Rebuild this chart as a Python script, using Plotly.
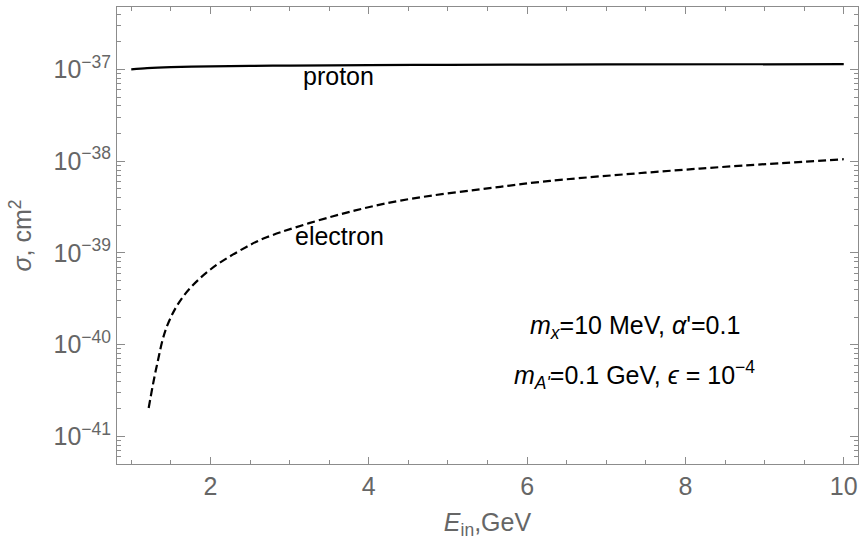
import plotly.graph_objects as go

# ---- data ----
proton_E = [1.0, 1.2, 1.5, 2.0, 2.5, 3.0, 4.0, 5.0, 7.0, 10.0]
proton_sigma = [1.0e-37, 1.03e-37, 1.057e-37, 1.08e-37, 1.093e-37, 1.102e-37, 1.113e-37,
                1.121e-37, 1.132e-37, 1.14e-37]

electron_E = [1.22, 1.32, 1.45, 1.66, 2.0, 2.46, 2.71, 3.55, 4.40, 5.66, 6.29, 8.18, 10.0]
electron_sigma = [2.04e-41, 5.75e-41, 1.58e-40, 3.39e-40, 6.6e-40, 1.17e-39, 1.48e-39,
                  2.51e-39, 3.72e-39, 5.25e-39, 6.1e-39, 8.3e-39, 1.05e-38]

x_tickvals = [2, 4, 6, 8, 10]
y_tickvals = [1e-41, 1e-40, 1e-39, 1e-38, 1e-37]
y_ticktext = ["10<sup>−41</sup>", "10<sup>−40</sup>", "10<sup>−39</sup>",
              "10<sup>−38</sup>", "10<sup>−37</sup>"]

FONT = "Liberation Sans, Arial, sans-serif"
FRAME = "#8c8c8c"
TICKC = "#666666"

fig = go.Figure()
fig.add_trace(go.Scatter(x=proton_E, y=proton_sigma, mode="lines",
                         line=dict(color="black", width=2.2, shape="spline", smoothing=0.8),
                         showlegend=False))
fig.add_trace(go.Scatter(x=electron_E, y=electron_sigma, mode="lines",
                         line=dict(color="black", width=2.2, dash="8px,4px", shape="spline"),
                         showlegend=False))

fig.update_layout(
    width=861, height=541,
    margin=dict(l=117, r=3, t=7, b=77),
    paper_bgcolor="white", plot_bgcolor="white",
    font=dict(family=FONT, size=25, color=TICKC),
)

fig.update_xaxes(
    range=[0.82, 10.18],
    tickvals=x_tickvals,
    ticks="inside", ticklen=7, tickwidth=1, tickcolor=FRAME,
    minor=dict(dtick=0.5, tick0=0, ticks="inside", ticklen=4, tickcolor=FRAME, showgrid=False),
    showline=True, linecolor=FRAME, linewidth=1, mirror="allticks",
    showgrid=False, zeroline=False,
    tickfont=dict(family=FONT, size=25, color=TICKC),
    title=dict(text="<i>E</i><sub>in</sub>,GeV", font=dict(family=FONT, size=25, color=TICKC),
               standoff=14),
)
fig.update_yaxes(
    type="log",
    range=[-41.3, -36.32],
    tickvals=y_tickvals, ticktext=y_ticktext,
    ticks="inside", ticklen=8, tickwidth=1, tickcolor=FRAME,
    minor=dict(dtick="D1", ticks="inside", ticklen=4, tickcolor=FRAME, showgrid=False),
    showline=True, linecolor=FRAME, linewidth=1, mirror="allticks",
    showgrid=False, zeroline=False,
    tickfont=dict(family=FONT, size=25, color=TICKC),
    title=dict(text="<i>σ</i>, cm<sup>2</sup>", font=dict(family=FONT, size=25, color=TICKC),
               standoff=14),
)

txt = dict(family=FONT, size=25, color="black")
fig.add_annotation(xref="paper", yref="paper", x=0.299, y=0.849, text="proton",
                   showarrow=False, font=txt, xanchor="center", yanchor="middle")
fig.add_annotation(xref="paper", yref="paper", x=0.30, y=0.499, text="electron",
                   showarrow=False, font=txt, xanchor="center", yanchor="middle")
fig.add_annotation(xref="paper", yref="paper", x=0.699, y=0.30,
                   text="<i>m</i><sub><i>x</i></sub>=10 MeV, <i>α</i>'=0.1",
                   showarrow=False, font=txt, xanchor="center", yanchor="middle")
fig.add_annotation(xref="paper", yref="paper", x=0.699, y=0.195,
                   text="<i>m</i><sub><i>A'</i></sub>=0.1 GeV, <i>ϵ</i> = 10<sup>−4</sup>",
                   showarrow=False, font=txt, xanchor="center", yanchor="middle")

fig.write_html("out.html", config={"displayModeBar": False},
               post_script="document.body.style.margin='0';document.body.style.overflow='hidden';")
